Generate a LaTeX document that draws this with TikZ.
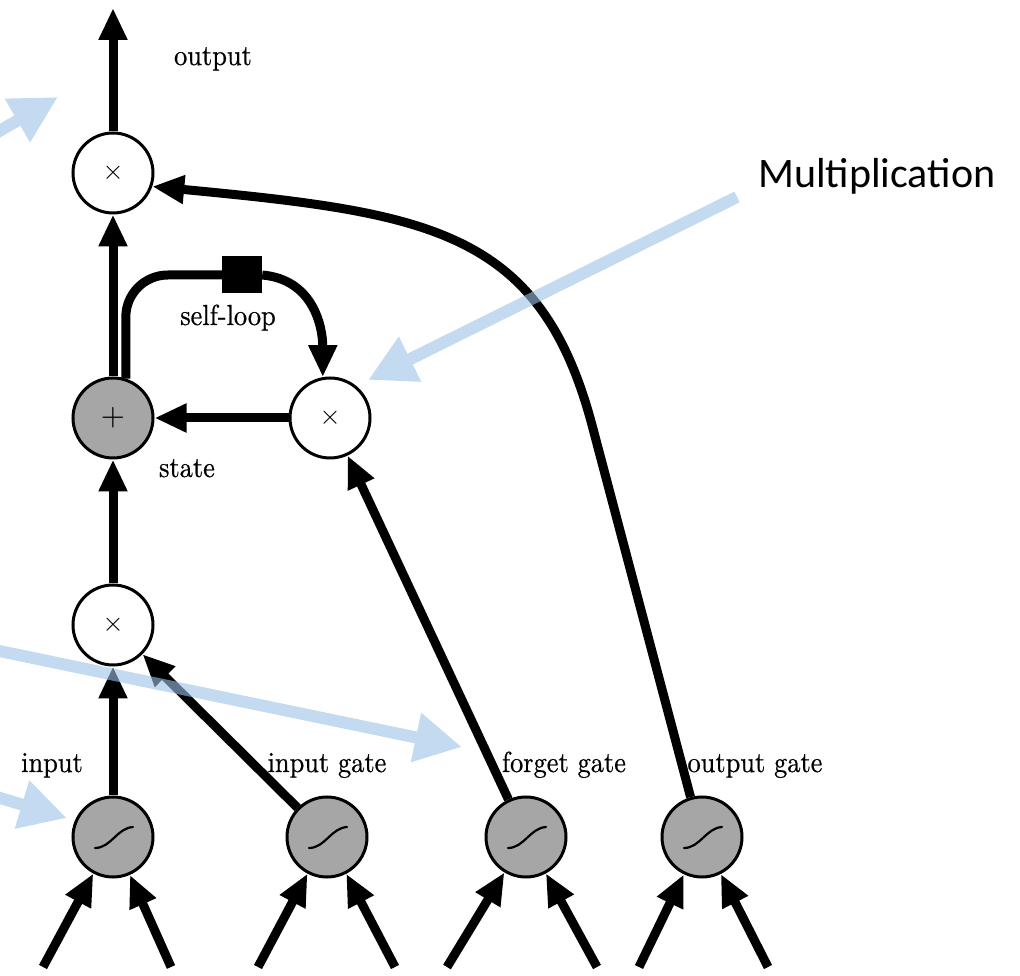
\documentclass[tikz,border=0pt]{standalone}
\usepackage{fontspec}
\newfontfamily\calibri{Carlito}
\newfontfamily\lblfont{Latin Modern Roman}[FakeBold=0.6]
\usetikzlibrary{arrows.meta}
\definecolor{nodegray}{RGB}{166,166,166}
\definecolor{hlblue}{RGB}{155,194,230}
\tikzset{
  conn/.style={line width=9pt, -{Triangle[length=32pt,width=27pt]}},
  opnode/.style={circle, draw, line width=3pt, minimum size=80pt, inner sep=0pt, fill=white},
  graynode/.style={opnode, fill=nodegray},
  lbl/.style={font=\lblfont\fontsize{10}{12}\selectfont, xscale=2.64, yscale=2.9, inner sep=0pt, anchor=base},
  sym/.style={font=\fontsize{10}{12}\selectfont, scale=2.7, inner sep=0pt},
  hl/.style={line width=12pt, draw=hlblue, -{Triangle[length=47pt,width=47pt]}},
  gatebox/.style={fill=black, minimum width=40pt, minimum height=37pt, inner sep=0pt},
  sigcurve/.style={line width=2.2pt, line cap=round}
}
\begin{document}
\begin{tikzpicture}[x=1pt,y=1pt]
\useasboundingbox (0,0) rectangle (1020,975);
\clip (0,0) rectangle (1020,975);
% nodes
\node[opnode] (xout) at (113,802) {};
\node[graynode] (plus) at (113,557) {};
\node[opnode] (xself) at (330,557) {};
\node[opnode] (xin) at (113,350) {};
\node[graynode] (sin) at (113,138) {};
\node[graynode] (sig) at (327,138) {};
\node[graynode] (sfg) at (526,138) {};
\node[graynode] (sog) at (702,138) {};
\node[gatebox] (sq) at (242,700) {};
% symbols
\node[sym] (sxout) at (xout) {$\times$};
\node[sym, scale=1.15] (splus) at (plus) {$+$};
\node[sym] (sxself) at (xself) {$\times$};
\node[sym] (sxin) at (xin) {$\times$};
\foreach \n in {sin,sig,sfg,sog}{
  \draw[sigcurve] ([shift={(-18,-11)}]\n.center) .. controls +(16,0) and +(-16,-1) .. ([shift={(20,10)}]\n.center);
}
% coordinates
\coordinate (outtop) at (113,967);
\coordinate (ogbend) at (592,550);
\foreach \n/\l/\r in {sin/70/58, sig/69/68, sfg/79/71, sog/63/66}{
  \coordinate (\n L) at ([shift={(-\l,-130)}]\n.center);
  \coordinate (\n R) at ([shift={(\r,-130)}]\n.center);
}
% connectors
\draw[conn] (xout) -- (outtop);
\draw[conn] (plus) -- (xout);
\draw[conn] (xin) -- (plus);
\draw[conn] (sin) -- (xin);
\draw[conn] (sig) -- (xin);
\draw[conn] (sfg) -- (xself);
\draw[conn] (xself) -- (plus);
\draw[conn] (sog.106) -- (ogbend) .. controls (540,745) and (430,762) .. (xout.-19);
\draw[line width=9pt, rounded corners=42pt] (plus.72) |- (sq.west);
\draw[conn] (sq.east) to[out=-5,in=90,looseness=1.1] (xself.100);
\foreach \n in {sin,sig,sfg,sog}{
  \draw[conn] (\n L) -- (\n);
  \draw[conn] (\n R) -- (\n);
}
% labels
\node[lbl] (tout) at (213,910) {output};
\node[lbl] (tloop) at (228,650) {self-loop};
\node[lbl] (tstate) at (187,498) {state};
\node[lbl] (tin) at (52,203) {input};
\node[lbl] (tig) at (327,203) {input gate};
\node[lbl] (tfg) at (564,203) {forget gate};
\node[lbl] (tog) at (755,203) {output gate};
\node[font=\calibri\fontsize{42}{50}\selectfont, anchor=base west, inner sep=0pt] (tmult) at (758,787) {Multiplication};
% highlight arrows
\coordinate (b1s) at (-30,827);  \coordinate (b1t) at (58,878);
\coordinate (b2s) at (737,778);  \coordinate (b2t) at (368,595);
\coordinate (b3s) at (-20,328);  \coordinate (b3t) at (462,228);
\coordinate (b4s) at (-20,183);  \coordinate (b4t) at (67,157);
\begin{scope}[transparency group, opacity=0.6]
\draw[hl] (b1s) -- (b1t);
\draw[hl] (b2s) -- (b2t);
\draw[hl] (b3s) -- (b3t);
\draw[hl] (b4s) -- (b4t);
\end{scope}
\end{tikzpicture}
\end{document}
